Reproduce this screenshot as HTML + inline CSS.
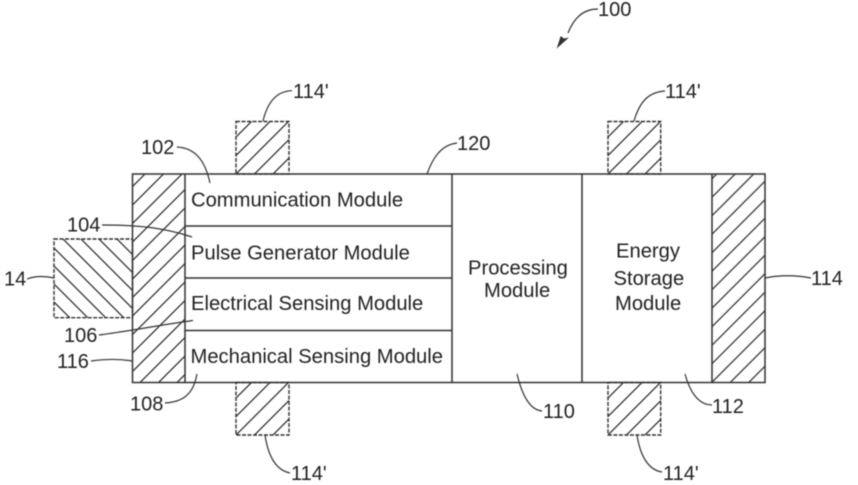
<!DOCTYPE html>
<html><head><meta charset="utf-8"><style>
html,body{margin:0;padding:0;background:#fff;width:858px;height:485px;overflow:hidden}
svg{display:block}
text{font-family:"Liberation Sans",sans-serif;font-size:20px;fill:#222}
.m{font-size:20.2px}
.r{fill:none;stroke:#333;stroke-width:1.5}
.d{fill:none;stroke:#333;stroke-width:1.4;stroke-dasharray:4 1.5}
.l{fill:none;stroke:#333;stroke-width:1.2}
</style></head><body>
<svg width="858" height="485" viewBox="0 0 858 485" xmlns="http://www.w3.org/2000/svg">
<defs>
<filter id="b" x="0" y="0" width="100%" height="100%" filterUnits="userSpaceOnUse"><feGaussianBlur stdDeviation="0.4"/></filter>
<pattern id="h1" width="18.5" height="18.5" patternUnits="userSpaceOnUse" patternTransform="translate(4.5,0)"><path d="M-1 19.5L19.5 -1M-5 5L5 -5M13.5 23.5L23.5 13.5" stroke="#2a2a2a" stroke-width="1.2" fill="none"/></pattern>
<pattern id="h2" width="18.5" height="18.5" patternUnits="userSpaceOnUse" patternTransform="translate(3,0)"><path d="M-1 19.5L19.5 -1M-5 5L5 -5M13.5 23.5L23.5 13.5" stroke="#2a2a2a" stroke-width="1.2" fill="none"/></pattern>
<pattern id="h3" width="18.5" height="18.5" patternUnits="userSpaceOnUse" patternTransform="translate(5,0)"><path d="M-1 19.5L19.5 -1M-5 5L5 -5M13.5 23.5L23.5 13.5" stroke="#2a2a2a" stroke-width="1.2" fill="none"/></pattern>
<pattern id="h4" width="18.5" height="18.5" patternUnits="userSpaceOnUse" patternTransform="translate(7,0)"><path d="M-1 19.5L19.5 -1M-5 5L5 -5M13.5 23.5L23.5 13.5" stroke="#2a2a2a" stroke-width="1.2" fill="none"/></pattern>
<pattern id="h5" width="18.5" height="18.5" patternUnits="userSpaceOnUse" patternTransform="translate(2.7,0)"><path d="M-1 19.5L19.5 -1M-5 5L5 -5M13.5 23.5L23.5 13.5" stroke="#2a2a2a" stroke-width="1.2" fill="none"/></pattern>
<pattern id="h6" width="18" height="18" patternUnits="userSpaceOnUse" patternTransform="translate(4,0)"><path d="M-1 -1L19 19M-5 13L5 23M13 -5L23 5" stroke="#2a2a2a" stroke-width="1.2" fill="none"/></pattern>
</defs>
<g filter="url(#b)">
<rect x="132.5" y="174" width="52.5" height="208.5" fill="url(#h1)"/>
<rect x="712" y="174" width="53" height="208.5" fill="url(#h5)"/>
<rect x="236" y="121.5" width="53" height="52.5" fill="url(#h2)"/>
<rect x="608" y="121.5" width="52.7" height="52.5" fill="url(#h3)"/>
<rect x="236" y="382.5" width="53" height="52.5" fill="url(#h3)"/>
<rect x="608" y="382.5" width="52.7" height="52.5" fill="url(#h4)"/>
<rect x="54" y="239" width="78.5" height="78.7" fill="url(#h6)"/>

<rect class="d" x="236" y="121.5" width="53" height="52.5"/>
<rect class="d" x="608" y="121.5" width="52.7" height="52.5"/>
<rect class="d" x="236" y="382.5" width="53" height="52.5"/>
<rect class="d" x="608" y="382.5" width="52.7" height="52.5"/>
<rect class="d" x="54" y="239" width="78.5" height="78.7"/>

<rect class="r" x="132.5" y="174" width="632.5" height="208.5"/>
<path class="r" d="M185 174V382.5M452 174V382.5M582 174V382.5M712 174V382.5M185 226H452M185 278H452M185 330.5H452"/>

<path class="l" d="M177 147C195 148 205 160 210 183"/>
<path class="l" d="M102 225C140 225 165 228 192 237"/>
<path class="l" d="M27 279C35 276 45 276 54 278"/>
<path class="l" d="M99 335C130 331 160 325 193 320.5"/>
<path class="l" d="M91 361C105 359 120 359 132 361"/>
<path class="l" d="M165 403C180 402 193 397 197 374"/>
<path class="l" d="M265 435C268 455 275 470 290 473"/>
<path class="l" d="M263 121C268 100 278 91 292 90.7"/>
<path class="l" d="M427 174C432 160 440 145 457 143"/>
<path class="l" d="M634 121C640 100 650 92 665 91"/>
<path class="l" d="M598 9C583 9 574 18 568 33"/>
<path d="M556.7 48.5L560.7 36L564 38.5L569 37.5Z" fill="#333"/>
<path class="l" d="M517 374C522 395 530 410 542 411"/>
<path class="l" d="M685 374C690 392 698 405 712 405"/>
<path class="l" d="M637 435C640 455 648 470 662 472"/>
<path class="l" d="M765 278C780 275 795 275 811 278"/>

<text class="m" x="191" y="206.7">Communication Module</text>
<text class="m" x="191" y="259.3">Pulse Generator Module</text>
<text class="m" x="191" y="310">Electrical Sensing Module</text>
<text class="m" x="190.5" y="363">Mechanical Sensing Module</text>
<text class="m" x="468" y="274.3">Processing</text>
<text class="m" x="484" y="297">Module</text>
<text class="m" x="616" y="257.7">Energy</text>
<text class="m" x="613.5" y="285">Storage</text>
<text class="m" x="615" y="310">Module</text>

<text x="598" y="16">100</text>
<text x="293" y="98">114'</text>
<text x="665" y="98">114'</text>
<text x="457" y="150">120</text>
<text x="141" y="154">102</text>
<text x="67" y="231.7">104</text>
<text x="4" y="285.7">14</text>
<text x="64" y="342">106</text>
<text x="57" y="368">116</text>
<text x="130" y="410.7">108</text>
<text x="291" y="480">114'</text>
<text x="543" y="418">110</text>
<text x="712" y="413">112</text>
<text x="663" y="480">114'</text>
<text x="811" y="285">114</text>
</g>
</svg>
</body></html>
